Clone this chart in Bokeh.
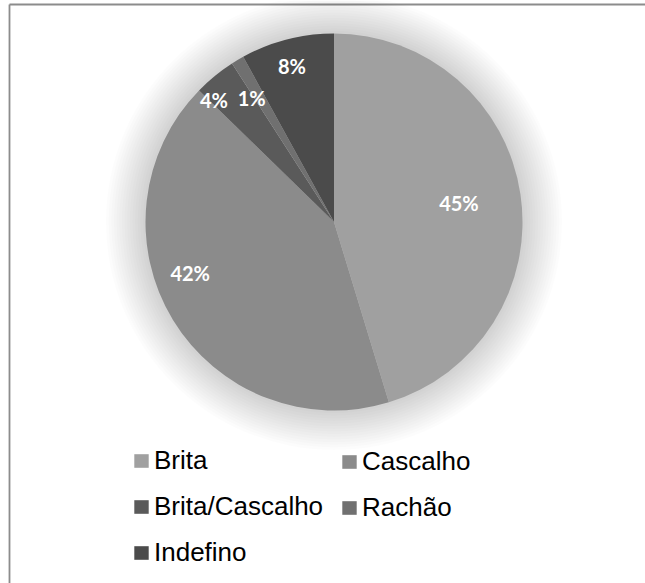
import math
from bokeh.plotting import figure
from bokeh.models import Range1d, Legend, LegendItem, ColumnDataSource
from bokeh.core.properties import value
from bokeh.embed import file_html
from bokeh.resources import INLINE

# ---- data ----
categories = ["Brita", "Cascalho", "Brita/Cascalho", "Rachão", "Indefino"]
shares = [45.3, 42.0, 3.6, 1.1, 8.0]
colors = ["#a0a0a0", "#8b8b8b", "#5a5a5a", "#707070", "#4b4b4b"]

# ---- label placement (layout) ----
label_r = [0.67, 0.81, 0.91, 0.79, 0.855]
label_dang = [0.0, 11.7, -5.2, -2.8, -0.7]

W, H = 645, 583
R = 188.5          # px per data unit (pie radius)
cx_px, cy_px = 333.5, 221.5

p = figure(width=W, height=H, output_backend="svg", toolbar_location=None,
           x_range=Range1d(-cx_px / R, (W - cx_px) / R),
           y_range=Range1d(-(H - cy_px) / R, cy_px / R),
           min_border=0, background_fill_color="white",
           border_fill_color="white", outline_line_color=None)
p.xaxis.visible = False
p.yaxis.visible = False
p.grid.visible = False

# frame lines (top & left only)
x0, x1 = p.x_range.start, p.x_range.end
y0, y1 = p.y_range.start, p.y_range.end
bx = x0 + 9.0 / R
by = y1 - 4.0 / R
p.segment(x0=[bx, bx], y0=[y0, by], x1=[bx, x1], y1=[by, by],
          line_color="#8c8c8c", line_width=1.8)

# soft glow behind the pie
n_glow = 15
for k in range(n_glow):
    p.circle(x=0, y=0, radius=1.0 + 0.21 * (k + 1) / n_glow,
             fill_color="black", fill_alpha=0.013, line_color=None)

total = sum(shares)
starts, ends, mids = [], [], []
cum = 0.0
for s in shares:
    a0 = math.pi / 2 - 2 * math.pi * cum / total
    cum += s
    a1 = math.pi / 2 - 2 * math.pi * cum / total
    starts.append(a0)
    ends.append(a1)
    mids.append((a0 + a1) / 2)

src = ColumnDataSource(dict(start=starts, end=ends, color=colors, cat=categories))
wr = p.wedge(x=0, y=0, radius=1, start_angle="start", end_angle="end",
             direction="clock", fill_color="color", line_color=None, source=src)

lx, ly, lt = [], [], []
for i, s in enumerate(shares):
    a = mids[i] - math.radians(label_dang[i])
    lx.append(label_r[i] * math.cos(a))
    ly.append(label_r[i] * math.sin(a))
    lt.append(f"{round(s)}%")
p.text(x=lx, y=ly, text=lt, text_align="center", text_baseline="middle",
       text_color="white", text_font=value("Lato"), text_font_style="bold",
       text_font_size="20px")

def make_legend(idx, loc):
    lg = Legend(items=[LegendItem(label=categories[i], renderers=[wr], index=i) for i in idx],
                location=loc, orientation="vertical",
                glyph_width=18, glyph_height=17, label_standoff=4,
                spacing=15, padding=0, margin=0,
                border_line_color=None, background_fill_alpha=0,
                label_text_font="Liberation Sans", label_text_font_size="26px",
                label_text_color="black", label_text_baseline="middle")
    return lg

p.add_layout(make_legend([0, 2, 4], (132, 15)))
p.add_layout(make_legend([1, 3], (340, 60)))

open("out.html", "w").write(file_html(p, INLINE))
